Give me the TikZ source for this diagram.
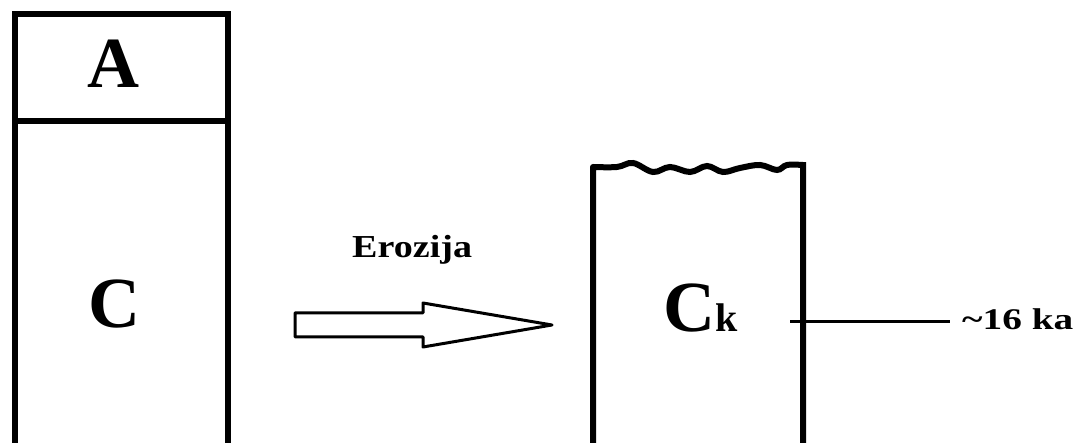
\documentclass[tikz,border=0pt]{standalone}
\usepackage{fontspec}
\setmainfont{Liberation Serif}
\usetikzlibrary{positioning, calc}

\begin{document}
\begin{tikzpicture}[x=1pt, y=1pt, wall/.style={line width=6pt, line cap=round},
    thin wall/.style={line width=3pt, line join=round},
    big/.style={font=\bfseries\fontsize{72}{72}\selectfont, inner sep=0pt, anchor=base},
    small/.style={font=\bfseries\fontsize{32}{32}\selectfont, inner sep=0pt, anchor=base west}]
  \useasboundingbox (0,0) rectangle (1081,443);
  % left column
  \coordinate (LT) at (15,428.5); \coordinate (RT) at (228,428.5);
  \coordinate (LB) at (15,-10); \coordinate (RB) at (228,-10);
  \draw[wall] (LB) -- (LT) -- (RT) -- (RB);
  \draw[line width=6pt] (12,322) -- (231,322);
  \node[big] (A) at (113,355) {A};
  \node[big] (C) at (114,115) {C};
  % arrow
  \draw[thin wall] (295,130) -- (423,130) -- (423,140) -- (552,118) -- (423,96) -- (423,106) -- (295,106) -- cycle;
  \node[small] (ero) at (352,185) {\scalebox{1.19}[1]{Erozija}};
  % eroded column
  \coordinate (lb) at (593,-10); \coordinate (rb) at (803,-10);
  \draw[wall] (lb) -- (593,276) plot[smooth, tension=0.6] coordinates {(593,276) (617,276) (633,280)
    (653,271) (670,276) (690,271) (707,277) (723,271) (740,275) (760,278) (777,273) (787,278) (803,278)}
    -- (rb);
  \node[big, anchor=base west] (Ck) at (663,111) {C\fontsize{40}{40}\selectfont k};
  \coordinate (tick) at (790,121);
  \node[small, font=\bfseries\fontsize{30}{30}\selectfont] (age) at (962,113) {\scalebox{1.31}[1]{\char`\~16 ka}};
  \draw[line width=3pt] (tick) -- (950,121);
\end{tikzpicture}
\end{document}
